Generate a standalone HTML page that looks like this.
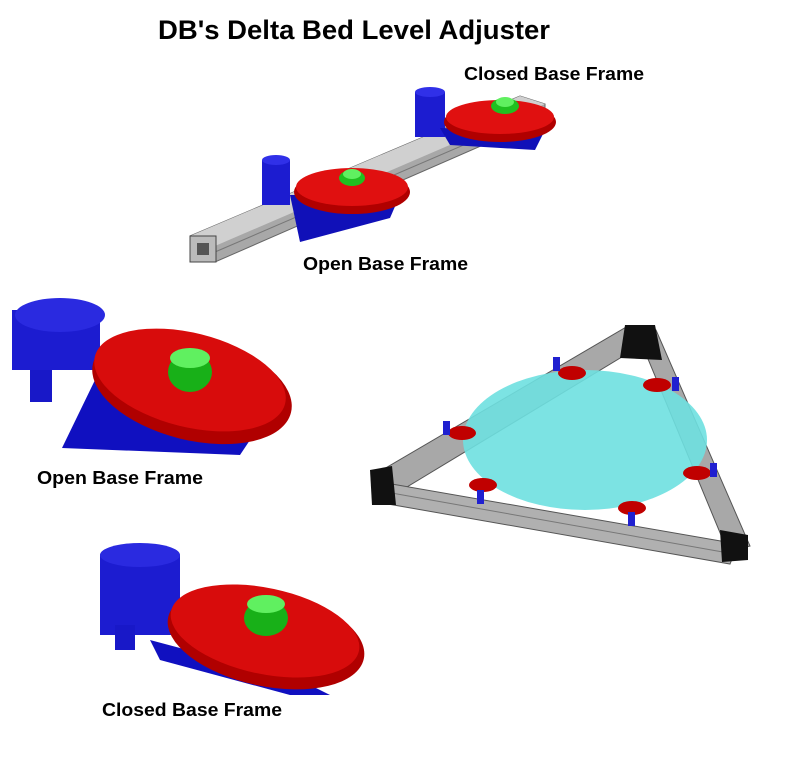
<!DOCTYPE html>
<html><head><meta charset="utf-8"><style>
html,body{margin:0;padding:0;background:#fff;}
svg{display:block;}
text{font-family:"Liberation Sans",sans-serif;font-weight:bold;fill:#000;}
</style></head><body>
<svg width="785" height="760" viewBox="0 0 785 760" xmlns="http://www.w3.org/2000/svg">
<text x="158" y="39" font-size="27" textLength="392" lengthAdjust="spacingAndGlyphs">DB's Delta Bed Level Adjuster</text>
<text x="464" y="80" font-size="18.5" textLength="180" lengthAdjust="spacingAndGlyphs">Closed Base Frame</text>
<text x="303" y="270" font-size="18.5" textLength="165" lengthAdjust="spacingAndGlyphs">Open Base Frame</text>
<text x="37" y="484" font-size="18.5" textLength="166" lengthAdjust="spacingAndGlyphs">Open Base Frame</text>
<text x="102" y="716" font-size="18.5" textLength="180" lengthAdjust="spacingAndGlyphs">Closed Base Frame</text>

<!-- top assembly extrusion -->
<polygon points="190,236 520,96 545,104 545,118 215,262 190,262" fill="#a8a8a8" stroke="#666" stroke-width="1"/>
<polygon points="190,236 520,96 545,104 215,246" fill="#d0d0d0"/>
<line x1="215" y1="252" x2="545" y2="110" stroke="#777"/>
<rect x="190" y="236" width="26" height="26" fill="#bbb" stroke="#444"/>
<rect x="197" y="243" width="12" height="12" fill="#555"/>
<rect x="262" y="160" width="28" height="45" fill="#1c1cd0"/>
<ellipse cx="276" cy="160" rx="14" ry="5" fill="#3030e8"/>
<polygon points="290,195 400,195 390,218 300,242" fill="#1010b8"/>
<rect x="415" y="92" width="30" height="45" fill="#1c1cd0"/>
<ellipse cx="430" cy="92" rx="15" ry="5" fill="#3030e8"/>
<polygon points="440,128 545,130 535,150 450,145" fill="#1010b8"/>
<ellipse cx="352" cy="192" rx="58" ry="22" fill="#b00000"/>
<ellipse cx="352" cy="187" rx="56" ry="19" fill="#e01010"/>
<ellipse cx="352" cy="178" rx="13" ry="8" fill="#20c020"/>
<ellipse cx="352" cy="174" rx="9" ry="5" fill="#60f060"/>
<ellipse cx="500" cy="122" rx="56" ry="20" fill="#b00000"/>
<ellipse cx="500" cy="117" rx="54" ry="17" fill="#e01010"/>
<ellipse cx="505" cy="106" rx="14" ry="8" fill="#20c020"/>
<ellipse cx="505" cy="102" rx="9" ry="5" fill="#60f060"/>

<!-- left open base -->
<rect x="12" y="310" width="88" height="60" fill="#1c1cd0"/>
<ellipse cx="60" cy="315" rx="45" ry="17" fill="#2a2ae0"/>
<rect x="30" y="370" width="22" height="32" fill="#1818c8"/>
<polygon points="95,380 160,400 250,440 240,455 62,448" fill="#1010c0"/>
<ellipse cx="192" cy="388" rx="102" ry="52" fill="#b00000" transform="rotate(14 192 388)"/>
<ellipse cx="190" cy="380" rx="98" ry="47" fill="#d80c0c" transform="rotate(14 190 380)"/>
<ellipse cx="190" cy="372" rx="22" ry="20" fill="#18b018"/>
<ellipse cx="190" cy="358" rx="20" ry="10" fill="#60f060"/>

<!-- bottom closed base -->
<rect x="100" y="555" width="80" height="80" fill="#1c1cd0"/>
<ellipse cx="140" cy="555" rx="40" ry="12" fill="#2a2ae0"/>
<rect x="115" y="625" width="20" height="25" fill="#1818c8"/>
<polygon points="150,640 300,680 330,695 290,695 160,660" fill="#1010c0"/>
<ellipse cx="266" cy="638" rx="100" ry="48" fill="#b00000" transform="rotate(12 266 638)"/>
<ellipse cx="265" cy="631" rx="96" ry="43" fill="#d80c0c" transform="rotate(12 265 631)"/>
<ellipse cx="266" cy="618" rx="22" ry="18" fill="#18b018"/>
<ellipse cx="266" cy="604" rx="19" ry="9" fill="#60f060"/>

<!-- triangle frame -->
<polygon points="372,476 628,326 650,340 392,496" fill="#a8a8a8" stroke="#555"/>
<polygon points="636,330 656,330 750,546 728,552" fill="#a8a8a8" stroke="#555"/>
<polygon points="380,482 388,504 730,564 738,544" fill="#b0b0b0" stroke="#555"/>
<line x1="386" y1="492" x2="734" y2="554" stroke="#777"/>
<ellipse cx="585" cy="440" rx="122" ry="70" fill="#6ee0e0" fill-opacity="0.9"/>
<polygon points="625,325 655,325 662,360 620,358" fill="#111"/>
<polygon points="370,470 392,466 396,505 372,505" fill="#111"/>
<polygon points="720,530 748,535 748,560 722,562" fill="#111"/>
<g fill="#c00000">
<ellipse cx="572" cy="373" rx="14" ry="7"/>
<ellipse cx="657" cy="385" rx="14" ry="7"/>
<ellipse cx="462" cy="433" rx="14" ry="7"/>
<ellipse cx="697" cy="473" rx="14" ry="7"/>
<ellipse cx="483" cy="485" rx="14" ry="7"/>
<ellipse cx="632" cy="508" rx="14" ry="7"/>
</g>
<g fill="#2020d0">
<rect x="553" y="357" width="7" height="14"/>
<rect x="672" y="377" width="7" height="14"/>
<rect x="443" y="421" width="7" height="14"/>
<rect x="710" y="463" width="7" height="14"/>
<rect x="477" y="490" width="7" height="14"/>
<rect x="628" y="512" width="7" height="14"/>
</g>
</svg>
</body></html>
